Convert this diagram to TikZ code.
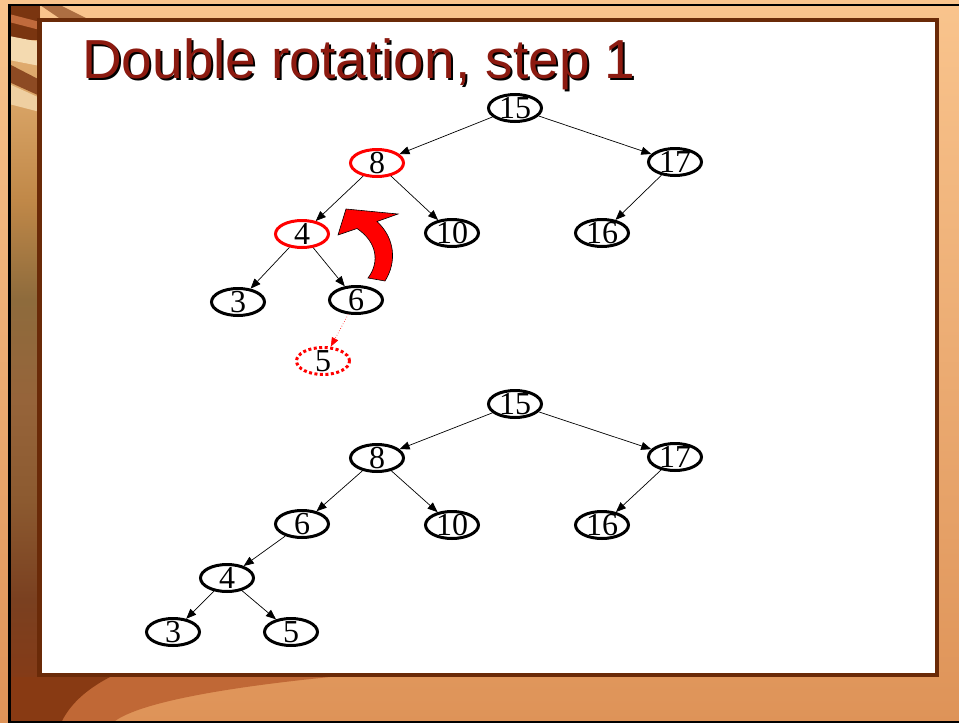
\documentclass[tikz,border=0pt]{standalone}
\usepackage{fontspec}
\usepackage{tikz}
\usetikzlibrary{arrows.meta,shapes.geometric}
\newfontfamily\titlefont{Liberation Sans}
\newfontfamily\treefont{Liberation Serif}
\definecolor{titlered}{HTML}{8C1A10}
\definecolor{framebrown}{HTML}{6A2A08}
\definecolor{peach}{HTML}{F9C48D}
\definecolor{burnt}{HTML}{DE9358}
\definecolor{hotred}{HTML}{FF0000}
\definecolor{stripdark}{HTML}{7A3510}
\definecolor{cream}{HTML}{F4DAB0}
\definecolor{rustbrown}{HTML}{A8441A}
\definecolor{sA}{HTML}{8A3812}
\definecolor{sB}{HTML}{7A4020}
\definecolor{sC}{HTML}{8C5A30}
\definecolor{sD}{HTML}{96643A}
\definecolor{sE}{HTML}{8E6B3C}
\definecolor{sF}{HTML}{C08848}
\definecolor{sG}{HTML}{D9A466}
\definecolor{sH}{HTML}{E8B47A}
\pgfdeclareverticalshading{stripshade}{100bp}{color(0bp)=(sA); color(25bp)=(sA); color(33.6bp)=(sB); color(40.5bp)=(sC); color(47.5bp)=(sD); color(54.5bp)=(sE); color(61.4bp)=(sF); color(68.4bp)=(sG); color(75bp)=(sH); color(100bp)=(sH)}
\tikzset{
  tnode/.style={ellipse,draw,line width=3pt,minimum width=53pt,minimum height=27pt,inner sep=-5pt,
    font=\treefont\fontsize{32}{32}\selectfont},
  hinode/.style={tnode,draw=hotred},
  newnode/.style={tnode,draw=hotred,dash pattern=on 3pt off 2.5pt},
  link/.style={line width=0.7pt,-{Triangle[length=10pt,width=8pt]}},
  newlink/.style={hotred,line width=0.6pt,dotted,-{Triangle[length=9pt,width=7pt]}},
}

\begin{document}
\begin{tikzpicture}[x=1pt,y=-1pt]
  \useasboundingbox (0,0) rectangle (959,723);
  % slide background
  \shade[top color=peach,bottom color=burnt] (0,0) rectangle (959,723);
  \shade[shading=stripshade] (9,5) rectangle (40,723);
  \begin{scope}
    \clip (9,5) rectangle (40,130);
    \fill[stripdark] (9,5) rectangle (40,40);
    \fill[rustbrown!70!peach] (9,14) -- (40,22) -- (40,30) -- (9,22) -- cycle;
    \fill[cream] (9,36) -- (40,42) -- (40,66) -- (9,60) -- cycle;
    \fill[stripdark!85!peach] (9,64) -- (40,80) -- (40,96) -- (9,82) -- cycle;
    \fill[cream!80!sG] (9,84) -- (40,98) -- (40,112) -- (9,104) -- cycle;
  \end{scope}
  \fill[stripdark!60!peach] (40,5) -- (60,5) -- (90,20) -- (62,20) -- cycle;
  \fill[rustbrown!55!burnt] (9,677) -- (330,677) .. controls (220,688) and (140,703) .. (115,721) -- (9,721) -- cycle;
  \fill[stripdark!70!rustbrown] (9,677) -- (110,677) .. controls (85,690) and (70,705) .. (62,721) -- (9,721) -- cycle;
  \draw[line width=2.5pt] (9.5,723) -- (9.5,5) -- (959,5);
  \draw[line width=2pt] (9,721.5) -- (959,721.5);
  \draw[draw=framebrown,fill=white,line width=4.5pt] (39.5,20) rectangle (937,675);

  % title
  \node[anchor=base west,inner sep=0pt,font=\titlefont\fontsize{55}{55}\selectfont] (titleshadow) at (84,80) {Double rotation, step 1};
  \node[anchor=base west,inner sep=0pt,font=\titlefont\fontsize{55}{55}\selectfont,text=titlered] (title) at (82,78) {Double rotation, step 1};

  % tree before the rotation
  \node[tnode] (a15) at (515,108) {15};
  \node[hinode] (a8) at (377,163) {8};
  \node[tnode] (a17) at (675,162) {17};
  \node[hinode] (a4) at (302,234) {4};
  \node[tnode] (a10) at (452,233) {10};
  \node[tnode] (a16) at (602,233) {16};
  \node[tnode] (a3) at (238,302) {3};
  \node[tnode] (a6) at (356,300) {6};
  \node[newnode] (a5) at (323,361) {5};
  \draw[link] (a15) -- (a8);
  \draw[link] (a15) -- (a17);
  \draw[link] (a8) -- (a4);
  \draw[link] (a8) -- (a10);
  \draw[link] (a17) -- (a16);
  \draw[link] (a4) -- (a3);
  \draw[link] (a4) -- (a6);
  \draw[newlink] (a6) -- (a5);
  % rotation arrow
  \draw[fill=hotred,line width=0.6pt,line join=miter] (338,235) -- (346,209) -- (398,214) -- (377,221.5)
    .. controls (395,238) and (397,262) .. (385,281) -- (368,278)
    .. controls (380,262) and (377,242) .. (357,228.5) -- cycle;

  % tree after step 1
  \node[tnode] (b15) at (515,404) {15};
  \node[tnode] (b8) at (377,458) {8};
  \node[tnode] (b17) at (675,457) {17};
  \node[tnode] (b6) at (302,524) {6};
  \node[tnode] (b10) at (452,525) {10};
  \node[tnode] (b16) at (602,525) {16};
  \node[tnode] (b4) at (227,578) {4};
  \node[tnode] (b3) at (173,632) {3};
  \node[tnode] (b5) at (291,632) {5};
  \draw[link] (b15) -- (b8);
  \draw[link] (b15) -- (b17);
  \draw[link] (b8) -- (b6);
  \draw[link] (b8) -- (b10);
  \draw[link] (b17) -- (b16);
  \draw[link] (b6) -- (b4);
  \draw[link] (b4) -- (b3);
  \draw[link] (b4) -- (b5);
\end{tikzpicture}
\end{document}
